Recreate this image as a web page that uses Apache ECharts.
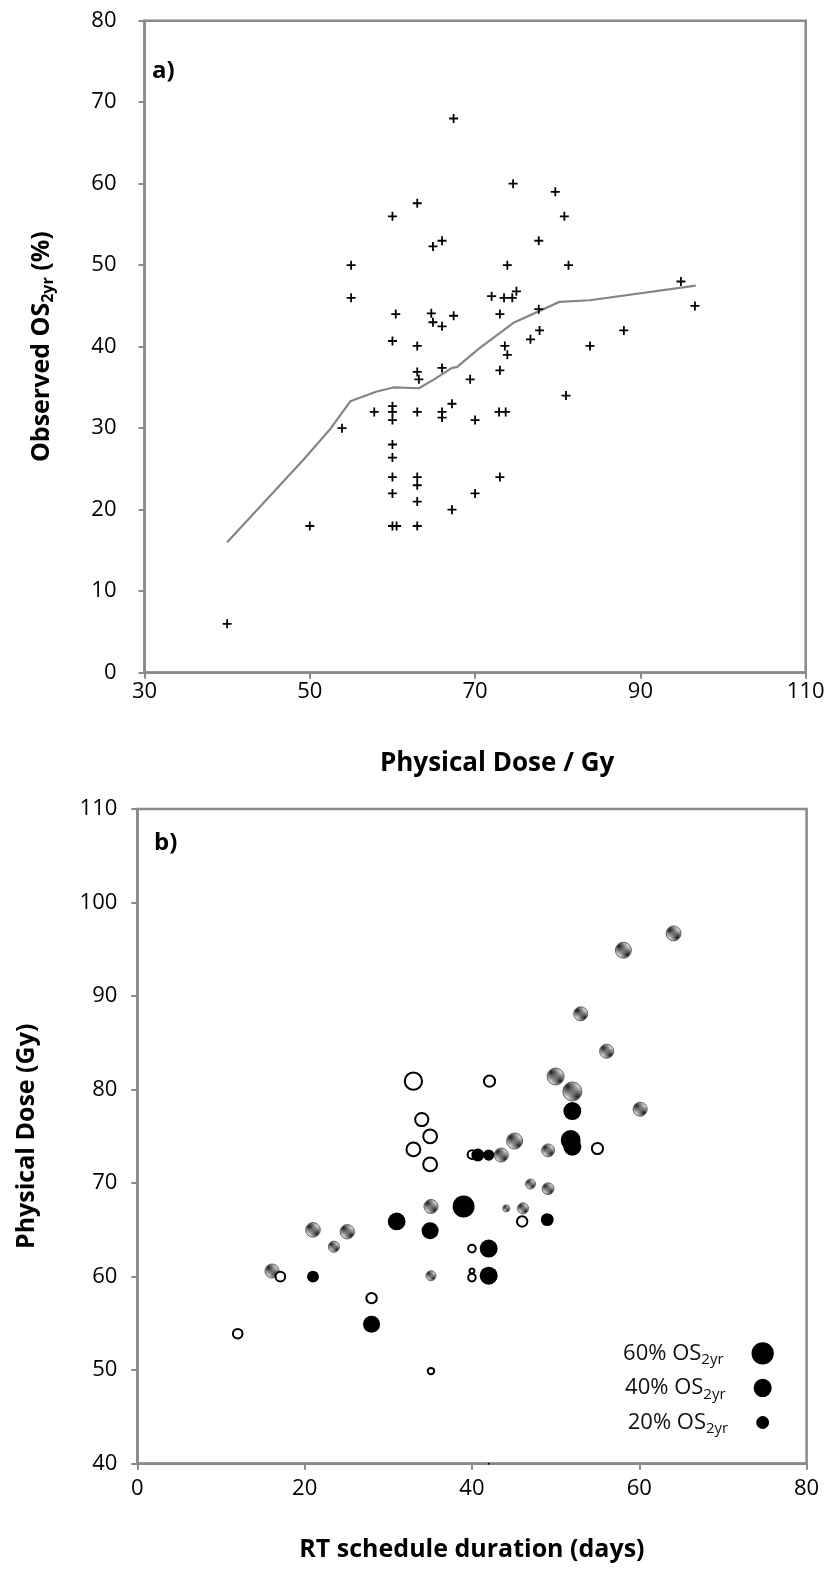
<!DOCTYPE html>
<html>
<head>
<meta charset="utf-8">
<script src="https://cdn.jsdelivr.net/npm/echarts@6/dist/echarts.min.js"></script>
<style>
  html, body { margin: 0; padding: 0; background: #fff; }
  #main { width: 834px; height: 1570px; }
</style>
</head>
<body>
<div id="main"></div>
<script>
// panel a) observed OS vs physical dose, [dose, OS%]
const observedPoints = [
  [67.4, 68.0], [63.0, 57.6], [60.0, 56.0], [64.9, 52.3], [66.0, 53.0],
  [55.0, 50.0], [55.0, 46.0], [60.4, 44.0], [64.7, 44.1], [64.9, 43.0],
  [66.0, 42.5], [67.4, 43.8], [60.0, 40.7], [63.0, 40.1], [74.6, 60.0],
  [79.7, 59.0], [80.8, 56.0], [77.7, 53.0], [73.9, 50.0], [81.3, 50.0],
  [94.9, 48.0], [96.6, 45.0], [72.0, 46.2], [73.5, 46.0], [74.5, 46.0],
  [75.0, 46.8], [73.0, 44.0], [77.7, 44.6], [77.8, 42.0], [76.7, 40.9],
  [88.0, 42.0], [73.6, 40.1], [83.9, 40.1], [63.0, 36.9], [63.2, 36.0],
  [66.0, 37.4], [69.4, 36.0], [57.8, 32.0], [60.0, 32.7], [60.0, 32.0],
  [60.0, 31.0], [63.0, 32.0], [66.0, 32.0], [66.0, 31.3], [67.2, 33.0],
  [70.0, 31.0], [53.9, 30.0], [60.0, 28.0], [60.0, 26.4], [60.0, 24.0],
  [63.0, 24.0], [63.0, 23.0], [60.0, 22.0], [63.0, 21.0], [70.0, 22.0],
  [67.2, 20.0], [50.0, 18.0], [60.0, 18.0], [60.5, 18.0], [63.0, 18.0],
  [40.0, 6.0], [73.9, 39.0], [73.0, 37.1], [81.0, 34.0], [72.9, 32.0],
  [73.7, 32.0], [73.0, 24.0]
];
// smoothed trend line
const trendLine = [
  [40, 16], [49.2, 26.1], [52.4, 29.8], [54.9, 33.3], [58.1, 34.5],
  [60.1, 35.0], [63.2, 34.9], [64.9, 35.9], [67.2, 37.4], [67.8, 37.5],
  [70.5, 39.8], [74.6, 42.9], [80.2, 45.5], [83.9, 45.7], [96.7, 47.5]
];

// panel b) [days, dose, OS% (bubble size)]
const openBubbles = [
  [33, 80.9, 36], [34, 76.8, 21], [35, 75.0, 23], [33, 73.6, 23], [35, 72.0, 23],
  [42.1, 80.9, 15], [40, 73.05, 9], [40, 63.0, 7], [17.1, 60.0, 11], [55, 73.7, 15],
  [46, 65.9, 13], [40, 60.6, 3], [40, 59.9, 7], [28, 57.7, 13], [12, 53.9, 11],
  [35.1, 49.9, 5]
];
const filledBubbles = [
  [39, 67.5, 58], [31, 65.9, 38], [35, 64.9, 35], [40.7, 73.0, 20], [42, 73.0, 15],
  [42, 63.0, 39], [42, 60.1, 39], [52, 77.7, 39], [51.8, 74.6, 48], [52, 73.9, 39],
  [49, 66.1, 20], [21, 60.0, 17], [28, 54.9, 35], [42, 40.0, 0.5]
];
const hatchedBubbles = [
  [35.1, 67.5, 24], [21, 65.0, 26], [25.1, 64.8, 25], [23.5, 63.2, 15], [16.1, 60.6, 24],
  [35.1, 60.1, 12], [56.1, 84.1, 24], [50, 81.4, 35], [52, 79.8, 44], [60.1, 77.9, 24],
  [45.1, 74.5, 31], [43.5, 73.0, 24], [49.1, 73.5, 20], [47, 69.9, 12], [49.1, 69.4, 17],
  [44.1, 67.3, 6], [46.1, 67.3, 15], [64.1, 96.7, 27], [58.1, 94.9, 31], [53, 88.1, 24]
];
const sizeLegend = [[74.75, 51.8, 60], [74.75, 48.1, 40], [74.75, 44.4, 20]];

const FONT = 'Open Sans';
const bubbleSize = v => 2.88 * Math.sqrt(v[2]);

function stripes() {
  const c = document.createElement('canvas');
  c.width = 4; c.height = 4;
  const g = c.getContext('2d');
  g.fillStyle = '#fff';
  g.fillRect(0, 0, 4, 4);
  g.strokeStyle = '#1e1e1e';
  g.lineWidth = 1.5;
  [-4, 0, 4].forEach(x0 => {
    g.beginPath(); g.moveTo(x0, 0); g.lineTo(x0 + 4, 4); g.stroke();
  });
  return c;
}

const axisGrey = '#8a8a8a';
function valueAxis(extra, labelMargin) {
  return Object.assign({
    type: 'value',
    splitLine: { show: false },
    axisLine: { show: true, onZero: false, lineStyle: { color: axisGrey, width: 2.5 } },
    axisTick: { show: true, length: 6, lineStyle: { color: axisGrey, width: 2 } },
    axisLabel: { color: '#000', fontSize: 22, fontFamily: FONT, margin: labelMargin },
    nameLocation: 'middle',
    nameTextStyle: { color: '#000', fontSize: 25, fontWeight: 'bold', fontFamily: FONT }
  }, extra);
}

const chart = echarts.init(document.getElementById('main'));
chart.setOption({
  animation: false,
  graphic: [
    { type: 'text', left: 152, top: 59, style: { text: 'a)', font: 'bold 24px "Open Sans"', fill: '#000' } },
    { type: 'text', left: 154, top: 831, style: { text: 'b)', font: 'bold 24px "Open Sans"', fill: '#000' } }
  ],
  grid: [
    { left: 144.5, top: 20.7, right: 28.3, bottom: 897.3, show: true, borderColor: axisGrey, borderWidth: 2.5 },
    { left: 137.3, top: 809, right: 27.4, bottom: 106.3, show: true, borderColor: axisGrey, borderWidth: 2.5 }
  ],
  xAxis: [
    valueAxis({ gridIndex: 0, min: 30, max: 110, interval: 20, name: 'Physical Dose / Gy', nameGap: 78,
      nameTextStyle: { color: '#000', fontSize: 26, fontWeight: 'bold', fontFamily: FONT, padding: [0, 0, 0, 44] } }, 8),
    valueAxis({ gridIndex: 1, min: 0, max: 80, interval: 20, name: 'RT schedule duration (days)', nameGap: 74 }, 14)
  ],
  yAxis: [
    valueAxis({ gridIndex: 0, min: 0, max: 80, interval: 10, nameGap: 88,
      name: '{t|Observed OS}{s|2yr}{t| (%)}',
      nameTextStyle: { rich: {
        t: { fontSize: 25, fontWeight: 'bold', fontFamily: FONT, color: '#000' },
        s: { fontSize: 16, fontWeight: 'bold', fontFamily: FONT, color: '#000', padding: [13, 0, 0, 0] }
      } } }, 28),
    valueAxis({ gridIndex: 1, min: 40, max: 110, interval: 10, name: 'Physical Dose (Gy)', nameGap: 98 }, 20)
  ],
  series: [
    {
      type: 'line', xAxisIndex: 0, yAxisIndex: 0, data: trendLine, symbol: 'none',
      lineStyle: { color: '#858585', width: 2.2 }, z: 1
    },
    {
      type: 'scatter', xAxisIndex: 0, yAxisIndex: 0, data: observedPoints,
      symbol: 'path://M3.2,0H4.8V3.2H8V4.8H4.8V8H3.2V4.8H0V3.2H3.2Z', symbolSize: 9,
      itemStyle: { color: '#000', opacity: 1 }, z: 2
    },
    {
      type: 'scatter', xAxisIndex: 1, yAxisIndex: 1, data: hatchedBubbles, symbolSize: bubbleSize,
      itemStyle: { color: { image: stripes(), repeat: 'repeat' }, borderColor: '#666', borderWidth: 1, opacity: 1 }
    },
    {
      type: 'scatter', xAxisIndex: 1, yAxisIndex: 1, data: openBubbles, symbolSize: bubbleSize,
      itemStyle: { color: '#fff', borderColor: '#000', borderWidth: 2, opacity: 1 }
    },
    {
      type: 'scatter', xAxisIndex: 1, yAxisIndex: 1, data: filledBubbles, symbolSize: bubbleSize,
      itemStyle: { color: '#000', opacity: 1 }
    },
    {
      type: 'scatter', xAxisIndex: 1, yAxisIndex: 1, data: sizeLegend, symbolSize: bubbleSize,
      itemStyle: { color: '#000', opacity: 1 },
      label: {
        show: true, position: 'left', distance: 28,
        formatter: p => '{t|' + p.value[2] + '% OS}{s|2yr}',
        rich: {
          t: { fontSize: 22, fontFamily: FONT, color: '#111' },
          s: { fontSize: 15, fontFamily: FONT, color: '#111', padding: [13, 0, 0, 0] }
        }
      }
    }
  ]
});
</script>
</body>
</html>
